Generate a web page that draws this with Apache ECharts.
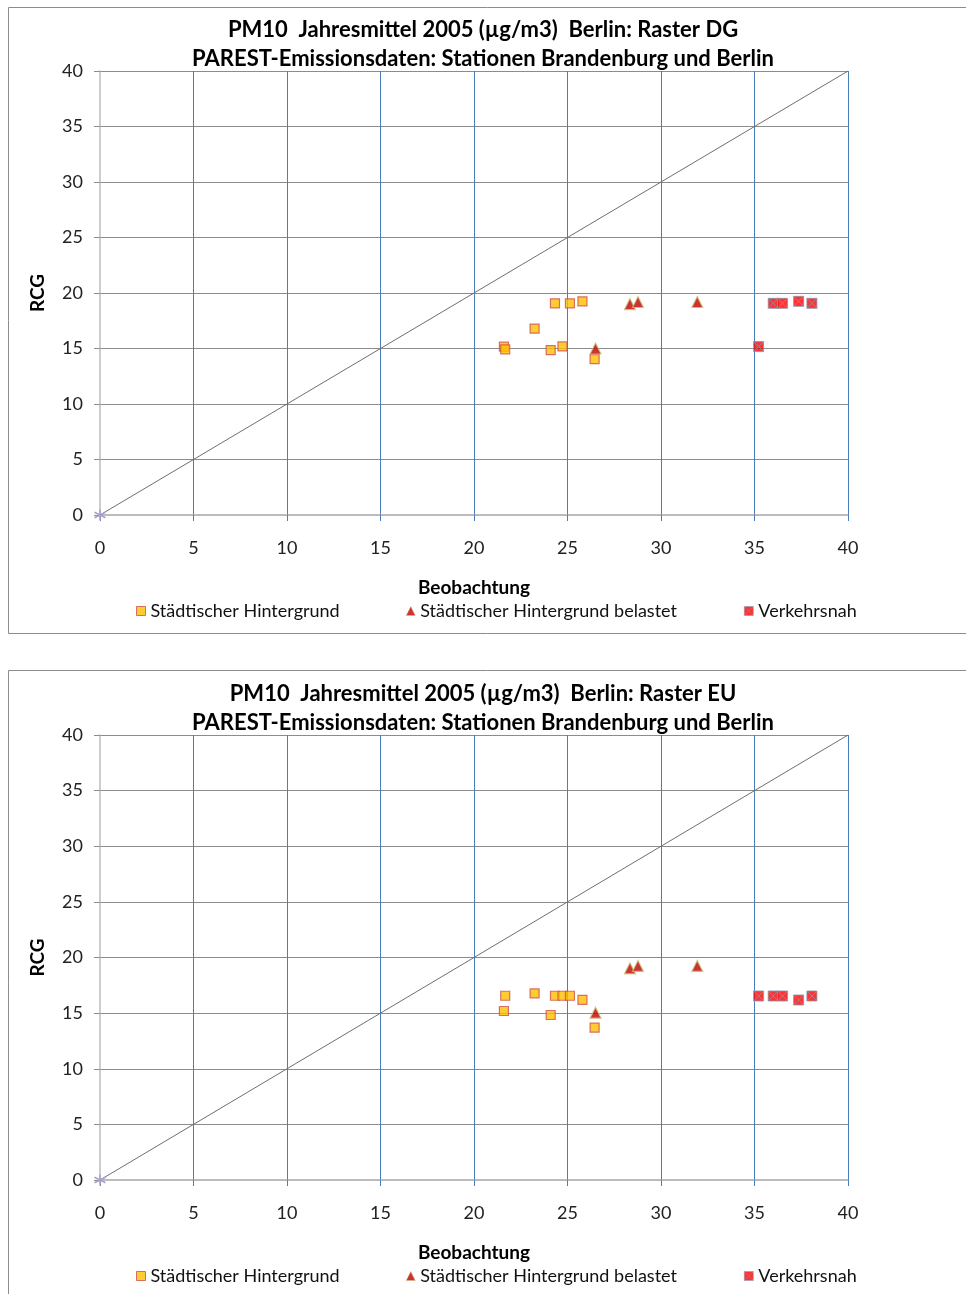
<!DOCTYPE html>
<html>
<head>
<meta charset="utf-8">
<script src="https://cdn.jsdelivr.net/npm/echarts@6/dist/echarts.min.js"></script>
<style>
html,body{margin:0;padding:0;background:#fff;}
#c{width:966px;height:1294px;}
</style>
</head>
<body>
<div id="c"></div>
<script>
// ---- data ----
const titleDG = 'PM10  Jahresmittel 2005 (µg/m3)  Berlin: Raster DG\nPAREST-Emissionsdaten: Stationen Brandenburg und Berlin';
const titleEU = 'PM10  Jahresmittel 2005 (µg/m3)  Berlin: Raster EU\nPAREST-Emissionsdaten: Stationen Brandenburg und Berlin';
const seriesNames = ['Städtischer Hintergrund', 'Städtischer Hintergrund belastet', 'Verkehrsnah'];
const xName = 'Beobachtung';
const yName = 'RCG';
const axisMin = 0, axisMax = 40, axisStep = 5;
const diagonal = [0, 40];

// Städtischer Hintergrund
const shObs = [21.6, 21.67, 23.24, 24.1, 24.33, 24.73, 25.13, 25.8, 26.45];
const shDG  = [15.17, 14.93, 16.79, 14.86, 19.07, 15.19, 19.07, 19.25, 14.05];
const shEU  = [15.19, 16.56, 16.78, 14.83, 16.56, 16.56, 16.56, 16.2, 13.69];
// Städtischer Hintergrund belastet
const shbObs = [26.5, 28.34, 28.77, 31.94];
const shbDG  = [15.0, 19.0, 19.19, 19.19];
const shbEU  = [15.04, 19.03, 19.24, 19.24];
// Verkehrsnah
const vnObs = [35.22, 36.0, 36.5, 37.36, 38.07];
const vnDG  = [15.17, 19.07, 19.07, 19.25, 19.07];
const vnEU  = [16.54, 16.54, 16.54, 16.18, 16.54];

// ---- chart ----
const FONT = 'Lato';
const crossSym = 'path://M0 0L10 0L10 10L0 10Z M0 0L10 10 M10 0L0 10';
const starSym = 'path://M5 0L5 10 M0.67 2.5L9.33 7.5 M0.67 7.5L9.33 2.5';
const zip = (a, b) => a.map((v, i) => [v, b[i]]);

const grids = [
  {left: 100, right: 118, top: 71, height: 444},
  {left: 100, right: 118, top: 735, height: 445}
];

function xAx(i) {
  return {
    gridIndex: i, type: 'value', min: axisMin, max: axisMax, interval: axisStep,
    name: xName, nameLocation: 'middle', nameGap: 63,
    nameTextStyle: {fontFamily: FONT, fontSize: 19, fontWeight: 'bold', color: '#000'},
    axisLine: {show: true, onZero: false, lineStyle: {color: '#a6a6a6', width: 1.5}},
    axisTick: {show: true, length: 6, lineStyle: {color: '#4a7ebb'}},
    axisLabel: {margin: 24, fontFamily: FONT, fontSize: 18, color: '#222'},
    splitLine: {show: true, showMinLine: false, lineStyle: {color: '#4a7ebb', width: 1}}
  };
}
function yAx(i) {
  return {
    gridIndex: i, type: 'value', min: axisMin, max: axisMax, interval: axisStep,
    name: yName, nameLocation: 'middle', nameGap: 53,
    nameTextStyle: {fontFamily: FONT, fontSize: 19, fontWeight: 'bold', color: '#000'},
    axisLine: {show: true, onZero: false, lineStyle: {color: '#bcbcbc', width: 1.5}},
    axisTick: {show: true, length: 6, lineStyle: {color: '#8c8c8c'}},
    axisLabel: {margin: 17, fontFamily: FONT, fontSize: 18, color: '#222'},
    splitLine: {show: true, showMinLine: false, lineStyle: {color: '#8c8c8c', width: 1}}
  };
}

function seriesFor(i, shY, shbY, vnY) {
  return [
    {
      type: 'line', xAxisIndex: i, yAxisIndex: i, silent: true,
      data: diagonal.map((v, k) => k === 0
        ? {value: [v, v], symbol: starSym, symbolSize: 11}
        : {value: [v, v], symbol: 'none'}),
      showSymbol: true,
      lineStyle: {color: '#6f6f6f', width: 1},
      itemStyle: {color: 'rgba(0,0,0,0)', borderColor: '#a99fcb', borderWidth: 1.5},
      z: 1
    },
    {
      name: seriesNames[0], type: 'scatter', xAxisIndex: i, yAxisIndex: i,
      data: zip(shObs, shY), symbol: 'rect', symbolSize: 9,
      itemStyle: {color: '#ffc000', borderColor: '#d0504d', borderWidth: 1.2}, z: 3
    },
    {
      name: seriesNames[1], type: 'scatter', xAxisIndex: i, yAxisIndex: i,
      data: zip(shbObs, shbY), symbol: 'triangle', symbolSize: 11,
      itemStyle: {color: '#c00000', borderColor: '#c4c77a', borderWidth: 1.2}, z: 3
    },
    {
      name: seriesNames[2], type: 'scatter', xAxisIndex: i, yAxisIndex: i,
      data: zip(vnObs, vnY), symbol: crossSym, symbolSize: 10,
      itemStyle: {color: '#ff0000', borderColor: '#8a95a8', borderWidth: 1}, z: 3
    }
  ];
}

function legendsFor(top) {
  const lefts = [131, 401, 739];
  const icons = [
    {color: '#ffc000', borderColor: '#d0504d', borderWidth: 1},
    {color: '#c00000', borderColor: '#c4c77a', borderWidth: 0.5},
    {color: '#ff0000', borderColor: '#8a95a8', borderWidth: 0.6}
  ];
  return seriesNames.map((n, k) => ({
    data: [{name: n, itemStyle: icons[k]}], left: lefts[k], top: top,
    itemWidth: 9, itemHeight: 9, itemGap: 0,
    selectedMode: false,
    textStyle: {fontFamily: FONT, fontSize: 18, color: '#111'}
  }));
}

const option = {
  animation: false,
  backgroundColor: '#fff',
  title: [
    {text: titleDG, left: 'center', top: 10,
     textStyle: {fontFamily: FONT, fontSize: 22, fontWeight: 'bold', color: '#000', lineHeight: 29}},
    {text: titleEU, left: 'center', top: 674,
     textStyle: {fontFamily: FONT, fontSize: 22, fontWeight: 'bold', color: '#000', lineHeight: 29}}
  ],
  grid: grids,
  xAxis: [xAx(0), xAx(1)],
  yAxis: [yAx(0), yAx(1)],
  legend: legendsFor(597).concat(legendsFor(1262)),
  graphic: [
    {type: 'rect', shape: {x: 8.5, y: 7.5, width: 1000, height: 626}, silent: true,
     style: {fill: 'none', stroke: '#8c8c8c', lineWidth: 1}},
    {type: 'rect', shape: {x: 8.5, y: 670.5, width: 1000, height: 700}, silent: true,
     style: {fill: 'none', stroke: '#8c8c8c', lineWidth: 1}}
  ],
  series: seriesFor(0, shDG, shbDG, vnDG).concat(seriesFor(1, shEU, shbEU, vnEU))
};

const chart = echarts.init(document.getElementById('c'), null, {renderer: 'canvas'});
chart.setOption(option);
</script>
</body>
</html>
